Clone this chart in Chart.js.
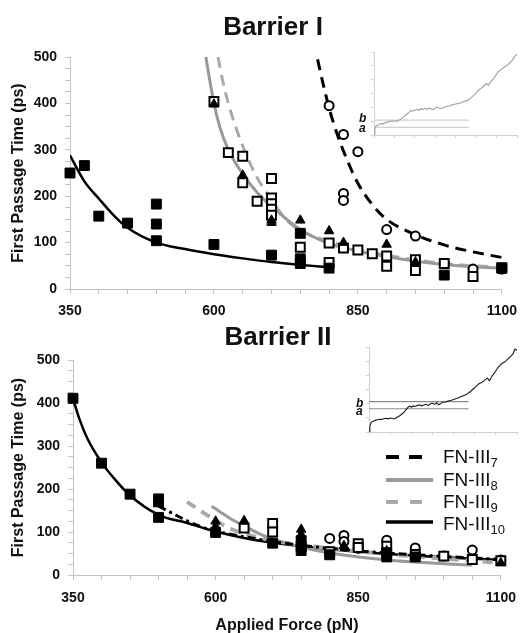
<!DOCTYPE html>
<html>
<head>
<meta charset="utf-8">
<script src="https://cdn.jsdelivr.net/npm/chart.js@4.4.0/dist/chart.umd.min.js"></script>
<style>
body { margin:0; background:#fff; }
#wrap { position:relative; width:526px; height:633px; overflow:hidden; font-family:"Liberation Sans", Arial, sans-serif; color:#111; }
canvas { position:absolute; }
.titulo { position:absolute; font-weight:bold; font-size:26px; line-height:26px; white-space:nowrap; transform:translateX(-50%); }
.leg { position:absolute; left:443px; font-size:19px; line-height:19px; white-space:nowrap; }
.leg span { font-size:13px; position:relative; top:4px; }
.ab { position:absolute; font-style:italic; font-weight:bold; font-size:12px; line-height:12px; }
</style>
</head>
<body>
<div id="wrap">
  <canvas id="panel1" width="526" height="322" style="left:0;top:0"></canvas>
  <canvas id="panel2" width="526" height="317" style="left:0;top:318px"></canvas>
  <canvas id="inset1" width="158" height="92" style="left:366px;top:48px"></canvas>
  <canvas id="inset2" width="163" height="94" style="left:361px;top:343px"></canvas>

  <div class="titulo" style="left:273px;top:13px">Barrier I</div>
  <div class="titulo" style="left:278px;top:323px">Barrier II</div>

  <div class="ab" style="left:359px;top:112px">b</div>
  <div class="ab" style="left:359px;top:122px">a</div>
  <div class="ab" style="left:356px;top:397px">b</div>
  <div class="ab" style="left:356px;top:405px">a</div>

  <svg width="60" height="90" style="position:absolute;left:380px;top:445px">
    <line x1="6" y1="12" x2="43" y2="12" stroke="#000" stroke-width="4" stroke-dasharray="13 10"/>
    <line x1="6" y1="35" x2="53" y2="35" stroke="#999" stroke-width="4"/>
    <line x1="6" y1="57" x2="43" y2="57" stroke="#aaa" stroke-width="4" stroke-dasharray="12 12"/>
    <line x1="6" y1="77" x2="53" y2="77" stroke="#000" stroke-width="3.5"/>
  </svg>
  <div class="leg" style="top:447px">FN-III<span>7</span></div>
  <div class="leg" style="top:470px">FN-III<span>8</span></div>
  <div class="leg" style="top:492px">FN-III<span>9</span></div>
  <div class="leg" style="top:514px">FN-III<span>10</span></div>
</div>

<script>
// etiquetas de los ejes
var xTickLabels = [350, 600, 850, 1100];
var yTickLabels = [0, 100, 200, 300, 400, 500];

//*********************** Barrier I - puntos *************************
var b1Fn7X  = [800, 825, 850, 825, 825, 900, 950, 1000, 1050, 1100];
var b1Fn7Y  = [395, 333, 296, 206, 191, 128, 114, 55, 43, 43];
var b1Fn8X  = [600, 625, 650, 650, 675, 700, 700, 700, 700, 700, 750, 800, 800, 825, 850, 875, 900, 900, 950, 950, 1000, 1050, 1100];
var b1Fn8Y  = [404, 294, 286, 229, 189, 238, 196, 184, 172, 159, 90, 99, 57, 88, 84, 76, 71, 49, 63, 40, 55, 27, 46];
var b1Fn9X  = [600, 650, 700, 700, 750, 800, 825, 900, 950, 1100];
var b1Fn9Y  = [398, 245, 148, 143, 148, 125, 100, 96, 58, 40];
var b1Fn10X = [350, 375, 400, 450, 500, 500, 500, 600, 700, 750, 750, 750, 800, 1000, 1100];
var b1Fn10Y = [250, 266, 157, 142, 183, 140, 104, 96, 73, 120, 65, 55, 45, 30, 45];

// Barrier I - curvas de ajuste
var b1Fit7X  = [780, 790, 800, 815, 830, 850, 875, 900, 950, 1000, 1050, 1100];
var b1Fit7Y  = [495, 440, 390, 330, 282, 228, 182, 150, 117, 95, 80, 68];
var b1Fit8X  = [586, 592, 600, 610, 625, 650, 675, 700, 750, 800, 850, 900, 950, 1000, 1050, 1100];
var b1Fit8Y  = [500, 455, 400, 350, 300, 248, 208, 178, 128, 98, 82, 70, 60, 53, 48, 45];
var b1Fit9X  = [607, 615, 625, 650, 675, 700, 725, 750, 800, 850, 900, 950, 1000, 1050, 1100];
var b1Fit9Y  = [500, 450, 400, 308, 240, 192, 150, 126, 103, 86, 73, 63, 55, 50, 47];
var b1Fit10X = [350, 375, 400, 425, 450, 500, 550, 600, 650, 700, 750, 800];
var b1Fit10Y = [288, 232, 195, 160, 132, 100, 86, 75, 66, 58, 52, 47];

//*********************** Barrier II - puntos ************************
var b2Fn7X  = [800, 825, 825, 850, 900, 950, 1000, 1050, 1100];
var b2Fn7Y  = [85, 92, 78, 62, 81, 63, 44, 58, 35];
var b2Fn8X  = [650, 700, 700, 750, 800, 850, 850, 900, 950, 1000, 1050, 1100];
var b2Fn8Y  = [109, 120, 100, 66, 54, 73, 64, 67, 48, 44, 36, 33];
var b2Fn9X  = [600, 600, 600, 650, 750, 750, 825, 900, 1100];
var b2Fn9Y  = [125, 113, 103, 126, 106, 94, 68, 56, 28];
var b2Fn10X = [350, 400, 450, 500, 500, 500, 600, 700, 750, 750, 800, 900, 900, 950];
var b2Fn10Y = [411, 260, 188, 177, 170, 134, 99, 74, 80, 57, 47, 52, 42, 42];

// Barrier II - curvas de ajuste
var b2Fit7X  = [500, 525, 550, 575, 600, 650, 700, 750, 800, 850, 900, 950, 1000, 1050, 1100];
var b2Fit7Y  = [160, 143, 126, 112, 102, 89, 78, 69, 62, 56, 51, 47, 43, 40, 36];
var b2Fit8X  = [593, 610, 625, 650, 675, 700, 750, 800, 850, 900, 950, 1000, 1050];
var b2Fit8Y  = [160, 145, 132, 114, 97, 84, 65, 51, 42, 35, 30, 26, 23];
var b2Fit9X  = [550, 575, 600, 625, 650, 700, 750, 800, 850, 900, 950, 1000, 1050, 1100];
var b2Fit9Y  = [170, 148, 127, 108, 96, 80, 70, 62, 55, 49, 43, 38, 33, 28];
var b2Fit10X = [350, 362, 375, 400, 425, 450, 500, 550, 600, 650, 700, 750, 800, 850, 900, 950, 1000, 1050, 1100];
var b2Fit10Y = [410, 360, 318, 262, 220, 185, 140, 121, 101, 86, 75, 67, 60, 54, 49, 45, 41, 38, 35];

//*********************** insets (trazas) ****************************
var insetU  = [0, 0.04, 0.1, 0.2, 0.3, 0.4, 0.5, 0.6, 0.7, 0.8, 0.9, 1.0, 1.1, 1.2, 1.3, 1.4, 1.5, 1.6, 1.7, 1.8, 1.9,
               2.0, 2.1, 2.2, 2.3, 2.4, 2.5, 2.6, 2.7, 2.8, 2.9, 3.0, 3.1, 3.2, 3.3, 3.4, 3.5, 3.6, 3.7, 3.8, 3.9,
               4.0, 4.2, 4.4, 4.6, 4.8, 4.9, 5.0, 5.1, 5.2, 5.3, 5.4, 5.5, 5.6, 5.7, 5.8, 5.9,
               6.0, 6.1, 6.2, 6.3, 6.4, 6.5, 6.6, 6.7, 6.8, 6.9, 7.0];
var inset1V = [0, 0.45, 0.66, 0.72, 0.8, 0.84, 0.82, 0.95, 0.92, 1.02, 0.98, 1.04, 0.97, 1.06, 1.12, 1.25, 1.38, 1.5, 1.62, 1.78, 1.72,
               1.8, 1.86, 1.79, 1.9, 1.84, 1.93, 1.86, 1.95, 1.88, 1.84, 1.97, 2.02, 1.92, 1.9, 1.98, 2.04, 2.08, 2.1, 2.16, 2.2,
               2.24, 2.3, 2.42, 2.52, 2.76, 2.9, 3.02, 3.22, 3.32, 3.44, 3.58, 3.72, 3.6, 3.82, 4.0, 4.18,
               4.4, 4.6, 4.72, 4.8, 4.95, 5.02, 5.15, 5.3, 5.45, 5.72, 5.85];
var inset2V = [0, 0.4, 0.68, 0.76, 0.82, 0.86, 0.9, 0.88, 0.94, 0.97, 0.93, 0.99, 0.95, 0.92, 1.02, 1.1, 1.2, 1.32, 1.48, 1.66, 1.82,
               1.76, 1.84, 1.8, 1.88, 1.92, 1.85, 1.9, 1.96, 1.88, 1.99, 2.03, 1.95, 2.06, 1.92, 2.02, 2.1, 2.12, 2.16, 2.2, 2.24,
               2.3, 2.4, 2.52, 2.64, 2.86, 3.0, 3.12, 3.28, 3.4, 3.48, 3.56, 3.7, 3.8, 3.62, 3.9, 4.1,
               4.32, 4.55, 4.7, 4.85, 4.92, 5.05, 5.2, 5.34, 5.5, 5.84, 5.78];
var inset1Niveles = [0.55, 1.08];   // a, b
var inset2Niveles = [1.64, 2.15];
var inset1Fin = 4.67;
var inset2Fin = 4.71;

Chart.defaults.font.family = '"Liberation Sans", Arial, sans-serif';
Chart.defaults.color = '#111';

function pts(xs, ys) {
    var out = [];
    for (var i = 0; i < xs.length; i++) {
        out.push({x: xs[i], y: ys[i]});
    }
    return out;
}

function curva(xs, ys, color, ancho, dash) {
    return {
        data: pts(xs, ys), showLine: true, pointRadius: 0, borderColor: color,
        borderWidth: ancho, borderDash: dash, tension: 0.4, cubicInterpolationMode: 'monotone',
        fill: false, order: 2
    };
}

function marcas(xs, ys, estilo, radio, relleno) {
    // clip false para que no se corten los de 350 y 1100
    return {
        data: pts(xs, ys), showLine: false, pointStyle: estilo, pointRadius: radio,
        pointBackgroundColor: relleno, pointBorderColor: '#000', pointBorderWidth: relleno == '#fff' ? 2 : 1,
        clip: false, order: 1
    };
}

function ejes(yAncho, xAlto, padX, tituloX) {
    return {
        x: {
            type: 'linear', min: 350, max: 1100,
            afterFit: function (s) { s.height = xAlto; },
            border: {display: true, color: '#c4c4c4', width: 1},
            grid: {drawOnChartArea: false, drawTicks: true, tickLength: 5, color: '#c4c4c4'},
            ticks: {
                stepSize: 50, autoSkip: false, maxRotation: 0, padding: padX,
                font: {size: 14, weight: 'bold'},
                callback: function (v) { return xTickLabels.indexOf(v) >= 0 ? String(v) : ''; }
            },
            title: {display: tituloX, text: 'Applied Force (pN)', font: {size: 16, weight: 'bold'}, padding: {top: 0, bottom: 0}}
        },
        y: {
            min: 0, max: 500,
            afterFit: function (s) { s.width = yAncho; },
            border: {display: true, color: '#c4c4c4', width: 1},
            grid: {drawOnChartArea: false, drawTicks: true, tickLength: 5, color: '#c4c4c4'},
            ticks: {
                stepSize: 25, autoSkip: false, padding: 8,
                font: {size: 14, weight: 'bold'},
                callback: function (v) { return yTickLabels.indexOf(v) >= 0 ? String(v) : ''; }
            },
            title: {display: true, text: 'First Passage Time (ps)', font: {size: 16, weight: 'bold'}, padding: {top: 9, bottom: 0}}
        }
    };
}

function panel(id, datasets, padding, yAncho, xAlto, padX, tituloX) {
    new Chart(document.getElementById(id), {
        type: 'scatter',
        data: {datasets: datasets},
        options: {
            responsive: false, animation: false, events: [],
            layout: {padding: padding},
            plugins: {legend: {display: false}, title: {display: false}, tooltip: {enabled: false}},
            scales: ejes(yAncho, xAlto, padX, tituloX)
        }
    });
}

// panel de arriba
panel('panel1', [
    curva(b1Fit7X, b1Fit7Y, '#000', 3, [11, 7]),
    curva(b1Fit8X, b1Fit8Y, '#999', 3, []),
    curva(b1Fit9X, b1Fit9Y, '#aaa', 3, [11, 7]),
    curva(b1Fit10X, b1Fit10Y, '#000', 2.5, []),
    marcas(b1Fn10X, b1Fn10Y, 'rect', 7, '#000'),
    marcas(b1Fn9X, b1Fn9Y, 'triangle', 5.5, '#000'),
    marcas(b1Fn8X, b1Fn8Y, 'rect', 6.3, '#fff'),
    marcas(b1Fn7X, b1Fn7Y, 'circle', 4.5, '#fff')
], {top: 57, right: 23, left: 0, bottom: 0}, 70, 33, 9, false);

// panel de abajo
panel('panel2', [
    curva(b2Fit7X, b2Fit7Y, '#000', 3, [8, 4, 3, 4]),
    curva(b2Fit8X, b2Fit8Y, '#999', 3, []),
    curva(b2Fit9X, b2Fit9Y, '#aaa', 4, [10, 7]),
    curva(b2Fit10X, b2Fit10Y, '#000', 2.5, []),
    marcas(b2Fn10X, b2Fn10Y, 'rect', 7, '#000'),
    marcas(b2Fn9X, b2Fn9Y, 'triangle', 5.5, '#000'),
    marcas(b2Fn8X, b2Fn8Y, 'rect', 6.3, '#fff'),
    marcas(b2Fn7X, b2Fn7Y, 'circle', 4.5, '#fff')
], {top: 42, right: 22, left: 0, bottom: 0}, 73, 60, 10, true);

function inset(id, vs, niveles, fin, colorTraza, colorNivel) {
    var ds = [{
        data: pts(insetU, vs), showLine: true, pointRadius: 0, borderColor: colorTraza, borderWidth: 1.1, tension: 0
    }];
    for (var i = 0; i < niveles.length; i++) {
        ds.push({data: pts([0, fin], [niveles[i], niveles[i]]), showLine: true, pointRadius: 0,
                 borderColor: colorNivel, borderWidth: 1.2});
    }
    new Chart(document.getElementById(id), {
        type: 'scatter',
        data: {datasets: ds},
        options: {
            responsive: false, animation: false, events: [],
            layout: {padding: {top: 4, right: 7, left: 0, bottom: 0}},
            plugins: {legend: {display: false}, tooltip: {enabled: false}},
            scales: {
                x: {min: 0, max: 7, afterFit: function (s) { s.height = 5; },
                    border: {color: '#d0d0d0'}, grid: {drawOnChartArea: false, tickLength: 3, color: '#d0d0d0'},
                    ticks: {display: false, stepSize: 1}},
                y: {min: 0, max: 6, afterFit: function (s) { s.width = 8; },
                    border: {color: '#d0d0d0'}, grid: {drawOnChartArea: false, tickLength: 3, color: '#d0d0d0'},
                    ticks: {display: false, stepSize: 1}}
            }
        }
    });
}

inset('inset1', inset1V, inset1Niveles, inset1Fin, '#a0a0a0', '#cfcfcf');
inset('inset2', inset2V, inset2Niveles, inset2Fin, '#1a1a1a', '#8a8a8a');
</script>
</body>
</html>
